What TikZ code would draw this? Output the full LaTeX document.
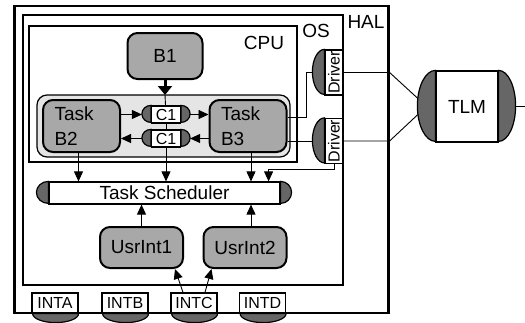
\documentclass[tikz,border=0pt]{standalone}
\usepackage{fontspec}
\usepackage{graphicx}
\setmainfont{Liberation Sans}
\usetikzlibrary{arrows.meta,calc}

\definecolor{blockgray}{gray}{0.66}
\definecolor{groupgray}{gray}{0.9}
\definecolor{capgray}{gray}{0.4}
\newcommand{\lblfont}{\fontsize{19}{25}\selectfont}
\newcommand{\smlfont}{\fontsize{16}{17}\selectfont}

\tikzset{
	block/.style={draw, line width=2pt, fill=blockgray, rounded corners=10pt, inner sep=0pt},
	task/.style={block, minimum width=77pt, minimum height=52pt, text width=54pt, align=left},
	chan/.style={draw, line width=1.2pt, fill=white, inner sep=0pt, font=\smlfont},
	capend/.style={draw, line width=1.2pt, fill=capgray},
	conn/.style={line width=0.9pt},
	arr/.style={conn, -{Triangle[length=10pt,width=9pt]}}
}

\begin{document}
\begin{tikzpicture}[x=1pt, y=-1pt, font=\lblfont]
	\useasboundingbox (0,0) rectangle (525,322);

	% HAL, OS and CPU frames
	\draw[line width=2.6pt] (14.5,6) rectangle (388.5,313);
	\draw[line width=2pt] (23,15) rectangle (343,285);
	\draw[line width=1.5pt] (29,26) rectangle (297,162);
	\node (hal) at (366,22) {HAL};
	\node (os) at (316,31) {OS};
	\node (cpu) at (264,43) {CPU};

	% task group
	\draw[fill=groupgray, rounded corners=10pt, line width=1.2pt] (37,95) rectangle (290,157);

	% blocks
	\node[block, minimum width=75pt, minimum height=46pt] (b1) at (165,56) {B1};
	\node[task] (b2) at (81.5,126) {Task\\B2};
	\node[task] (b3) at (248,126) {Task\\B3};
	\node[block, minimum width=83pt, minimum height=41pt] (usr1) at (141.5,247.5) {UsrInt1};
	\node[block, minimum width=83pt, minimum height=41pt] (usr2) at (245,247.5) {UsrInt2};

	% channels
	\node[chan, minimum width=29pt, minimum height=17pt] (c1a) at (166,114.5) {C1};
	\node[chan, minimum width=29pt, minimum height=17pt] (c1b) at (166,138.5) {C1};
	\foreach \n in {c1a,c1b} {
		\filldraw[capend] (\n.north west) arc[start angle=90, end angle=270, x radius=9pt, y radius=8.5pt] -- cycle;
		\filldraw[capend] (\n.north east) arc[start angle=90, end angle=-90, x radius=9pt, y radius=8.5pt] -- cycle;
	}

	% scheduler
	\node[chan, font=\lblfont, minimum width=231pt, minimum height=22pt] (sched) at (164.5,193) {Task Scheduler};
	\filldraw[capend] (sched.north west) arc[start angle=90, end angle=270, x radius=12pt, y radius=11pt] -- cycle;
	\filldraw[capend] (sched.north east) arc[start angle=90, end angle=-90, x radius=11pt, y radius=11pt] -- cycle;

	% drivers
	\node[chan, minimum width=18pt, minimum height=45pt] (drv1) at (334,72.5) {\rotatebox{90}{Driver}};
	\node[chan, minimum width=18pt, minimum height=45pt] (drv2) at (334,141) {\rotatebox{90}{Driver}};
	\foreach \n in {drv1,drv2}
		\filldraw[capend] (\n.north west) arc[start angle=90, end angle=270, x radius=12pt, y radius=22.5pt] -- cycle;

	% TLM
	\node[chan, font=\lblfont, minimum width=62pt, minimum height=71pt] (tlm) at (467,106.5) {TLM};
	\filldraw[capend] (tlm.north west) arc[start angle=90, end angle=270, x radius=18pt, y radius=35.5pt] -- cycle;
	\filldraw[capend] (tlm.north east) arc[start angle=90, end angle=-90, x radius=17pt, y radius=35.5pt] -- cycle;
	\coordinate (tlmout) at (525,106.5);

	% interrupt lines
	\foreach \n/\x/\txt in {inta/55/INTA, intb/125/INTB, intc/194/INTC, intd/262.5/INTD} {
		\node[chan, minimum width=46pt, minimum height=20pt] (\n) at (\x,303) {\txt};
		\filldraw[capend] (\n.south east) arc[start angle=0, end angle=-180, x radius=23pt, y radius=9pt] -- cycle;
	}

	% B1 into the channels
	\coordinate (gtop) at (165,95);
	\draw[line width=3pt, -{Triangle[length=9pt,width=14pt]}] (b1) -- (gtop);
	\draw[conn] (gtop) -- (c1a);
	\draw[conn] (c1a) -- (c1b);
	\draw[arr] (c1b) -- (c1b |- sched.north);

	% channel traffic
	\draw[arr] (b2.east |- c1a) -- ([xshift=-9pt]c1a.west);
	\draw[arr] ([xshift=9pt]c1a.east) -- (b3.west |- c1a);
	\draw[arr] (b3.west |- c1b) -- ([xshift=9pt]c1b.east);
	\draw[arr] ([xshift=-9pt]c1b.west) -- (b2.east |- c1b);

	% tasks to the scheduler
	\draw[arr] ([xshift=-3pt]b2.south) -- ([xshift=-3pt]b2.south |- sched.north);
	\draw[arr] ([xshift=3pt]b3.south) -- ([xshift=3pt]b3.south |- sched.north);
	\draw[arr] (drv2.south) -- ++(0,5) -| ([xshift=-12pt]sched.north east);

	% tasks to the drivers
	\draw[conn] ([yshift=9pt]b3.east) -- ++(19,0) |- ([xshift=-12pt]drv1.west);
	\draw[conn] (b3.east |- drv2.west) -- ([xshift=-12pt]drv2.west);

	% drivers to the TLM
	\draw[conn] (drv1.east) -- ++(46,0) -- ([xshift=-17.5pt,yshift=8pt]tlm.west);
	\draw[conn] (drv2.east) -- ++(46,0) -- ([xshift=-17.5pt,yshift=-8pt]tlm.west);
	\draw[conn] ([xshift=17pt]tlm.east) -- (tlmout);

	% interrupts
	\draw[arr] (usr1) -- (usr1 |- sched.south);
	\draw[arr] ([xshift=6pt]usr2.north) -- ([xshift=6pt]usr2.north |- sched.south);
	\draw[arr] ([xshift=-11pt]intc.north) -- ([xshift=-9pt]usr1.south east);
	\draw[arr] ([xshift=11pt]intc.north) -- ([xshift=9pt]usr2.south west);

\end{tikzpicture}
\end{document}
